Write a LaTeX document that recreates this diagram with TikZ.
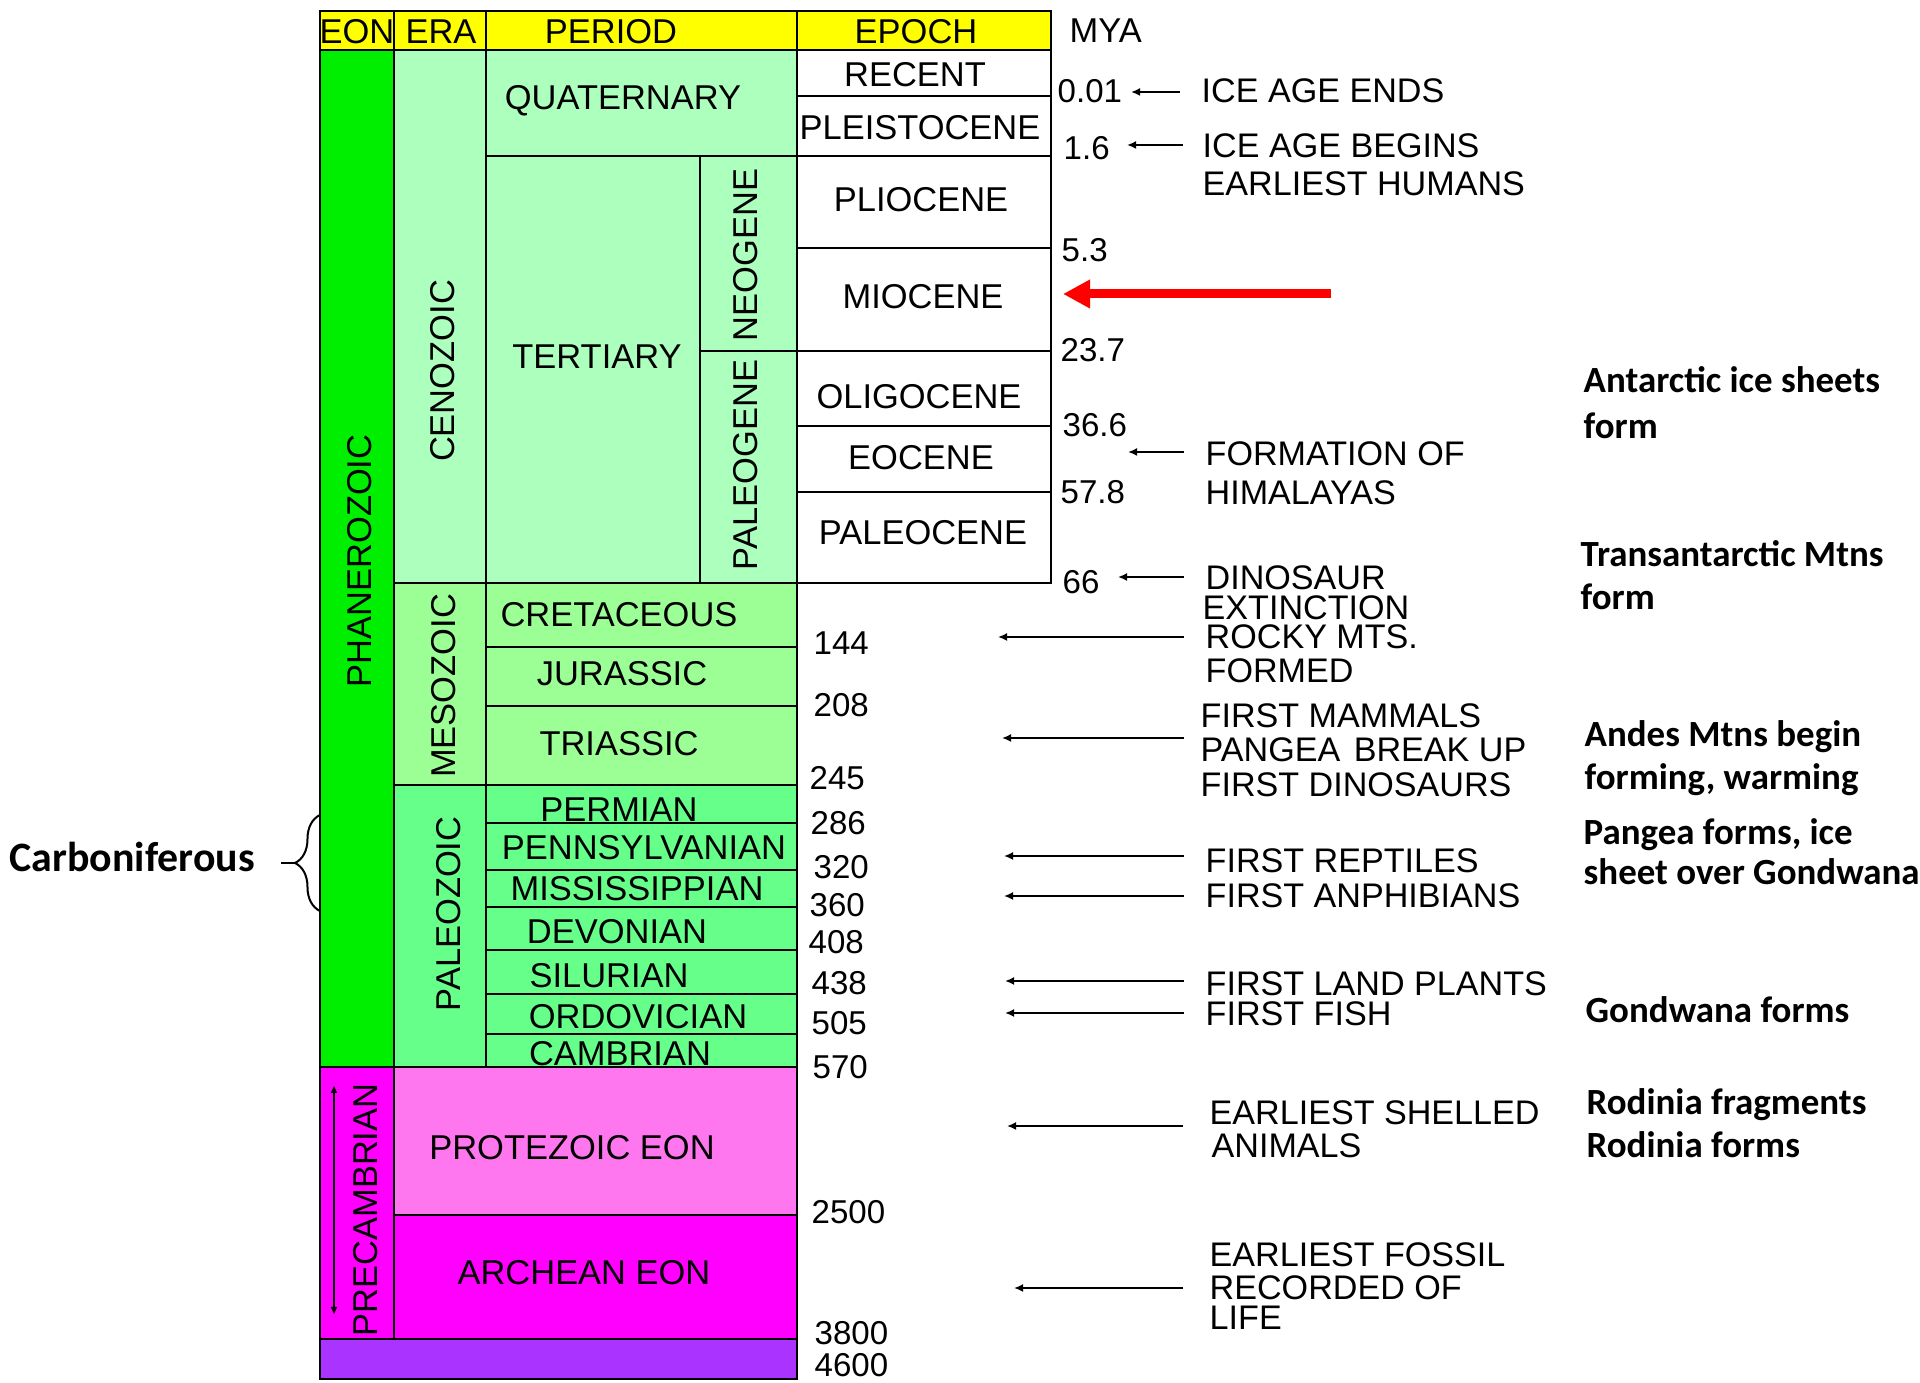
\documentclass[tikz,border=0pt]{standalone}
\usepackage{fontspec}
\setmainfont{Liberation Sans}
\newfontfamily\calib{Carlito}
\usetikzlibrary{arrows.meta,decorations.pathreplacing}
\definecolor{hdr}{RGB}{255,255,0}
\definecolor{phan}{RGB}{0,238,0}
\definecolor{ceno}{RGB}{173,255,189}
\definecolor{meso}{RGB}{156,255,150}
\definecolor{paleo}{RGB}{102,255,138}
\definecolor{precam}{RGB}{255,0,255}
\definecolor{prot}{RGB}{255,119,238}
\definecolor{arch}{RGB}{255,0,255}
\definecolor{hadean}{RGB}{170,51,255}
\definecolor{redarrow}{RGB}{255,0,0}
\begin{document}
\begin{tikzpicture}[x=0.01cm,y=-0.01cm,
  cell/.style={draw=black,line width=0.023cm},
  tt/.style={font=\fontsize{9.8}{11}\selectfont,inner sep=0pt,text height=0.245cm,text depth=0pt},
  vt/.style={tt,rotate=90},
  mya/.style={font=\fontsize{9.4}{11}\selectfont,inner sep=0pt,text height=0.235cm,text depth=0pt,anchor=west},
  ev/.style={font=\fontsize{9.7}{11}\selectfont,inner sep=0pt,text height=0.24cm,text depth=0pt,anchor=west},
  note/.style={font=\calib\bfseries\fontsize{10.5}{12}\selectfont,inner sep=0pt,text height=0.24cm,text depth=0pt,anchor=west},
  evarrow/.style={-{Latex[length=0.09cm,width=0.08cm]},line width=0.02cm},
]
\useasboundingbox (0,0) rectangle (1920,1383);
\fill[white] (0,0) rectangle (1920,1383);

% header
\draw[cell,fill=hdr] (320,11) rectangle (394,50);
\draw[cell,fill=hdr] (394,11) rectangle (486,50);
\draw[cell,fill=hdr] (486,11) rectangle (797,50);
\draw[cell,fill=hdr] (797,11) rectangle (1051,50);
\node[tt] (hEon) at (357,31) {EON};
\node[tt] (hEra) at (441,31) {ERA};
\node[tt] (hPer) at (611,31) {PERIOD};
\node[tt] (hEpo) at (916,31) {EPOCH};

% eons
\draw[cell,fill=phan] (320,50) rectangle (394,1067);
\draw[cell,fill=precam] (320,1067) rectangle (394,1339);
\draw[cell,fill=hadean] (320,1339) rectangle (797,1379);

% cenozoic
\draw[cell,fill=ceno] (394,50) rectangle (486,583);
\draw[cell,fill=ceno] (486,50) rectangle (797,156);
\draw[cell,fill=ceno] (486,156) rectangle (700,583);
\draw[cell,fill=ceno] (700,156) rectangle (797,351);
\draw[cell,fill=ceno] (700,351) rectangle (797,583);
% epochs
\foreach \a/\b in {50/96,96/156,156/248,248/351,351/426,426/492,492/583}
  \draw[cell,fill=white] (797,\a) rectangle (1051,\b);

% mesozoic
\draw[cell,fill=meso] (394,583) rectangle (486,785);
\foreach \a/\b in {583/647,647/706,706/785}
  \draw[cell,fill=meso] (486,\a) rectangle (797,\b);

% paleozoic
\draw[cell,fill=paleo] (394,785) rectangle (486,1067);
\foreach \a/\b in {785/823,823/870,870/907,907/950,950/994,994/1034,1034/1067}
  \draw[cell,fill=paleo] (486,\a) rectangle (797,\b);

% precambrian
\draw[cell,fill=prot] (394,1067) rectangle (797,1215);
\draw[cell,fill=arch] (394,1215) rectangle (797,1339);

% table labels
\node[tt] (quat) at (623,97) {QUATERNARY};
\node[tt] (rec) at (915,74) {RECENT};
\node[tt] (ple) at (920,127) {PLEISTOCENE};
\node[tt] (pli) at (921,199) {PLIOCENE};
\node[tt] (mio) at (923,296) {MIOCENE};
\node[tt] (tert) at (597,356) {TERTIARY};
\node[tt] (oli) at (919,396) {OLIGOCENE};
\node[tt] (eoc) at (921,457) {EOCENE};
\node[tt] (pal) at (923,532) {PALEOCENE};
\node[tt] (cret) at (619,614) {CRETACEOUS};
\node[tt] (jur) at (622,673) {JURASSIC};
\node[tt] (tri) at (619,743) {TRIASSIC};
\node[tt] (perm) at (619,809) {PERMIAN};
\node[tt] (penn) at (644,847) {PENNSYLVANIAN};
\node[tt] (miss) at (637,888) {MISSISSIPPIAN};
\node[tt] (dev) at (617,931) {DEVONIAN};
\node[tt] (sil) at (609,975) {SILURIAN};
\node[tt] (ord) at (638,1016) {ORDOVICIAN};
\node[tt] (camb) at (620,1053) {CAMBRIAN};
\node[tt] (prote) at (572,1147) {PROTEZOIC EON};
\node[tt] (arche) at (584,1272) {ARCHEAN EON};
\node[vt] (phanl) at (359,561) {PHANEROZOIC};
\node[vt] (cenol) at (442,371) {CENOZOIC};
\node[vt] (neol) at (745,255) {NEOGENE};
\node[vt] (paleol) at (745,465) {PALEOGENE};
\node[vt] (mesol) at (443,686) {MESOZOIC};
\node[vt] (paleoz) at (448,914) {PALEOZOIC};
\node[vt] (precl) at (365,1210) {PRECAMBRIAN};
\coordinate (pcTop) at (334,1085);
\coordinate (pcBot) at (334,1315);
\draw[{Latex[length=0.08cm,width=0.07cm]}-{Latex[length=0.08cm,width=0.07cm]},line width=0.018cm] (pcTop) -- (pcBot);

% MYA numbers
\node[tt,anchor=west] (mya) at (1069,30) {MYA};
\node[mya] (m001) at (1057,91) {0.01};
\node[mya] (m16) at (1063,148) {1.6};
\node[mya] (m53) at (1061,250) {5.3};
\node[mya] (m237) at (1060,350) {23.7};
\node[mya] (m366) at (1062,425) {36.6};
\node[mya] (m578) at (1060,492) {57.8};
\node[mya] (m66) at (1062,582) {66};
\node[mya] (m144) at (813,643) {144};
\node[mya] (m208) at (813,705) {208};
\node[mya] (m245) at (809,778) {245};
\node[mya] (m286) at (810,823) {286};
\node[mya] (m320) at (813,867) {320};
\node[mya] (m360) at (809,905) {360};
\node[mya] (m408) at (808,942) {408};
\node[mya] (m438) at (811,983) {438};
\node[mya] (m505) at (811,1023) {505};
\node[mya] (m570) at (812,1067) {570};
\node[mya] (m2500) at (811,1212) {2500};
\node[mya] (m3800) at (814,1333) {3800};
\node[mya] (m4600) at (814,1365) {4600};

% events
\node[ev] (e1) at (1201,91) {ICE AGE ENDS};
\node[ev] (e2) at (1202,146) {ICE AGE BEGINS};
\node[ev] (e2b) at (1202,184) {EARLIEST HUMANS};
\node[ev] (e3) at (1205,454) {FORMATION OF};
\node[ev] (e3b) at (1205,493) {HIMALAYAS};
\node[ev] (e4) at (1205,578) {DINOSAUR};
\node[ev] (e4b) at (1202,608) {EXTINCTION};
\node[ev] (e5) at (1205,637) {ROCKY MTS.};
\node[ev] (e5b) at (1205,671) {FORMED};
\node[ev] (e6) at (1200,716) {FIRST MAMMALS};
\node[ev] (e6b) at (1200,750) {PANGEA\hspace{0.04cm} BREAK UP};
\node[ev] (e6c) at (1200,785) {FIRST DINOSAURS};
\node[ev] (e7) at (1205,861) {FIRST REPTILES};
\node[ev] (e8) at (1205,896) {FIRST ANPHIBIANS};
\node[ev] (e9) at (1205,983) {FIRST LAND PLANTS};
\node[ev] (e10) at (1205,1013) {FIRST FISH};
\node[ev] (e11) at (1209,1112) {EARLIEST SHELLED};
\node[ev] (e11b) at (1211,1145) {ANIMALS};
\node[ev] (e12) at (1209,1254) {EARLIEST FOSSIL};
\node[ev] (e12b) at (1209,1287) {RECORDED OF};
\node[ev] (e12c) at (1209,1317) {LIFE};

% event arrows
\foreach \n/\t/\h/\y in {a1/1180/1131/92, a2/1183/1127/145, a3/1184/1128/452, a4/1184/1118/577,
  a5/1184/998/637, a6/1184/1002/738, a7/1184/1004/856, a8/1184/1004/896, a9/1184/1005/981,
  a10/1184/1005/1013, a11/1183/1007/1126, a12/1183/1014/1288}{
  \coordinate (\n t) at (\t,\y);
  \coordinate (\n h) at (\h,\y);
  \draw[evarrow] (\n t) -- (\n h);
}

% red arrow
\coordinate (redT) at (1331,294);
\coordinate (redH) at (1063,294);
\draw[redarrow,line width=0.09cm,-{Triangle[length=0.27cm,width=0.27cm]}] (redT) -- (redH);

% notes
\node[note] (n1) at (1583,381) {Antarctic ice sheets};
\node[note] (n1b) at (1583,427) {form};
\node[note] (n2) at (1580,555) {Transantarctic Mtns};
\node[note] (n2b) at (1580,598) {form};
\node[note] (n3) at (1584,735) {Andes Mtns begin};
\node[note] (n3b) at (1584,778) {forming, warming};
\node[note] (n4) at (1583,832) {Pangea forms, ice};
\node[note] (n4b) at (1583,873) {sheet over Gondwana};
\node[note] (n5) at (1585,1010) {Gondwana forms};
\node[note] (n6) at (1586,1102) {Rodinia fragments};
\node[note] (n6b) at (1586,1145) {Rodinia forms};

% carboniferous
\node[note,font=\calib\bfseries\fontsize{11.9}{13}\selectfont,text height=0.28cm] (carb) at (9,858) {Carboniferous};
\coordinate (brB) at (320,911);
\coordinate (brT) at (320,815);
\coordinate (brTip) at (295,863);
\coordinate (brStub) at (281,863);
\draw[line width=0.02cm,decorate,decoration={brace,amplitude=0.25cm}] (brB) -- (brT);
\draw[line width=0.02cm] (brTip) -- (brStub);
\end{tikzpicture}
\end{document}
